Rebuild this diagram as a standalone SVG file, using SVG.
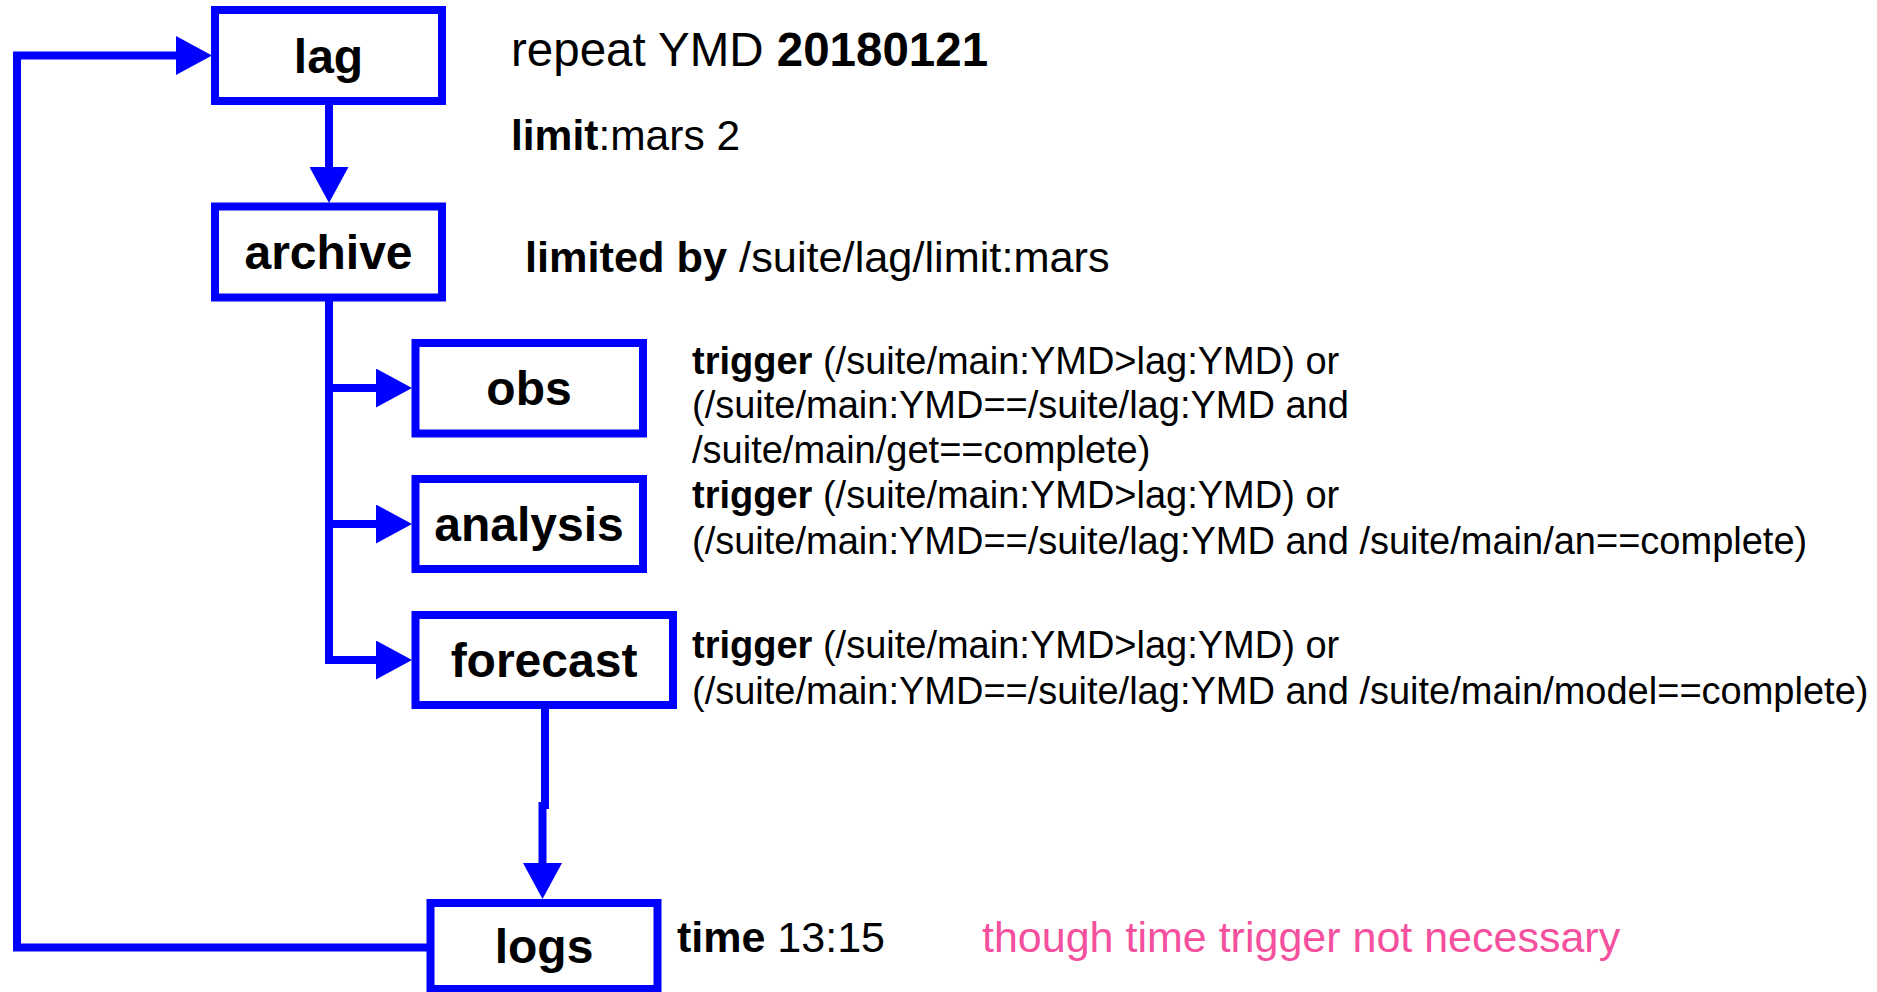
<svg xmlns="http://www.w3.org/2000/svg" width="1877" height="992" viewBox="0 0 1877 992">
<style>
.box{fill:#fff;stroke:#0000ff;stroke-width:8}
.lbl{font-family:"Liberation Sans",Arial,sans-serif;font-weight:bold;font-size:48px;fill:#000;text-anchor:middle}
.txt{font-family:"Liberation Sans",Arial,sans-serif;fill:#000}
.pink{fill:#f4509e}
.b{font-weight:bold}
.con{fill:none;stroke:#0000ff;stroke-width:8;stroke-linejoin:miter}
</style>
<defs>
<marker id="ah" viewBox="0 0 36 39" refX="6" refY="19.5" markerWidth="36" markerHeight="39" markerUnits="userSpaceOnUse" orient="auto">
<path d="M0,0 L36,19.5 L0,39 Z" fill="#0000ff"/>
</marker>
</defs>
<g id="connectors">
<path class="con" d="M431 947.5 H17 V55.5 H182" marker-end="url(#ah)"/>
<path class="con" d="M329 101 V173" marker-end="url(#ah)"/>
<path class="con" d="M329 297 V660 H382" marker-end="url(#ah)"/>
<path class="con" d="M329 388 H382" marker-end="url(#ah)"/>
<path class="con" d="M329 524 H382" marker-end="url(#ah)"/>
<path class="con" d="M545 709 V809"/>
<path class="con" d="M542.5 802 V869" marker-end="url(#ah)"/>
</g>
<g id="node-lag">
<rect class="box" x="215" y="10" width="227" height="91"/>
<text class="lbl" x="328.5" y="72.5">lag</text>
</g>
<g id="node-archive">
<rect class="box" x="215" y="206.5" width="227" height="91"/>
<text class="lbl" x="328.5" y="269">archive</text>
</g>
<g id="node-obs">
<rect class="box" x="415.5" y="343" width="227.5" height="90.5"/>
<text class="lbl" x="529" y="405">obs</text>
</g>
<g id="node-analysis">
<rect class="box" x="415.5" y="479" width="227.5" height="90"/>
<text class="lbl" x="529" y="541">analysis</text>
</g>
<g id="node-forecast">
<rect class="box" x="415.5" y="615" width="257.5" height="90"/>
<text class="lbl" x="544" y="677">forecast</text>
</g>
<g id="node-logs">
<rect class="box" x="430.5" y="903" width="227" height="86"/>
<text class="lbl" x="544" y="963">logs</text>
</g>
<g id="annotations">
<text class="txt" x="511" y="66" font-size="47.5">repeat YMD <tspan class="b">20180121</tspan></text>
<text class="txt" x="511" y="150" font-size="42.5"><tspan class="b">limit</tspan>:mars 2</text>
<text class="txt" x="525" y="272" font-size="43.3"><tspan class="b">limited by</tspan> /suite/lag/limit:mars</text>
<text class="txt" font-size="38">
<tspan x="692" y="374"><tspan class="b">trigger</tspan> (/suite/main:YMD&gt;lag:YMD) or</tspan>
<tspan x="692" y="418">(/suite/main:YMD==/suite/lag:YMD and</tspan>
<tspan x="692" y="463">/suite/main/get==complete)</tspan>
</text>
<text class="txt" font-size="38">
<tspan x="692" y="508"><tspan class="b">trigger</tspan> (/suite/main:YMD&gt;lag:YMD) or</tspan>
<tspan x="692" y="554">(/suite/main:YMD==/suite/lag:YMD and /suite/main/an==complete)</tspan>
</text>
<text class="txt" font-size="38">
<tspan x="692" y="658"><tspan class="b">trigger</tspan> (/suite/main:YMD&gt;lag:YMD) or</tspan>
<tspan x="692" y="704">(/suite/main:YMD==/suite/lag:YMD and /suite/main/model==complete)</tspan>
</text>
<text class="txt" x="677" y="952" font-size="43"><tspan class="b">time</tspan> 13:15</text>
<text class="txt pink" x="982" y="952" font-size="43">though time trigger not necessary</text>
</g>
</svg>
